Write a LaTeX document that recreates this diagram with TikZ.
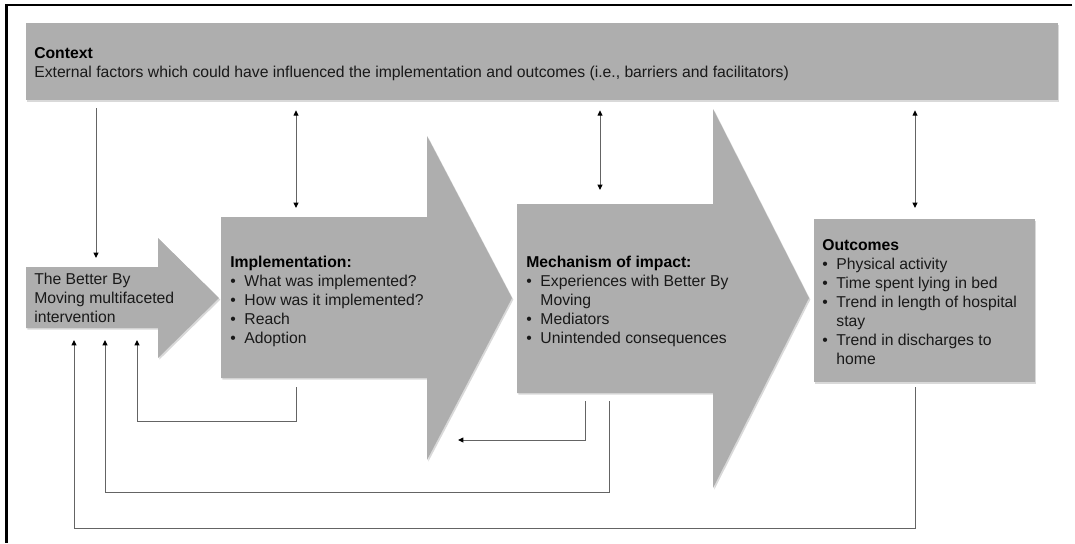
\documentclass[tikz,border=0pt]{standalone}
\usepackage{fontspec}
\setmainfont{Liberation Sans}
\usetikzlibrary{arrows.meta,shadows}
\definecolor{boxgray}{RGB}{174,174,174}
\definecolor{linegray}{RGB}{100,100,100}
\definecolor{txt}{RGB}{25,25,25}
\newcommand{\bl}{\textbullet}
\begin{document}
\begin{tikzpicture}[x=0.75pt,y=-0.75pt,
  grayshape/.style={fill=boxgray, drop shadow={shadow xshift=1pt, shadow yshift=-1.2pt, opacity=0.3}},
  conn/.style={draw=linegray, line width=0.75pt},
  tip/.style={-{Triangle[length=4pt,width=3.6pt,color=black]}},
  dtip/.style={{Triangle[length=4pt,width=3.6pt,color=black]}-{Triangle[length=4pt,width=3.6pt,color=black]}},
  lbl/.style={anchor=base west, inner sep=0pt, text=txt, font=\fontsize{11.8pt}{14.25pt}\selectfont},
  frame/.style={draw=black, line width=1.6pt}]
\useasboundingbox (0,0) rectangle (1075,543);
\draw[frame] (1072,5) -- (6.5,5) -- (6.5,543);

% context box
\node[grayshape, minimum width=774pt, minimum height=57.75pt, inner sep=0pt] (ctx) at (542,61.5) {};
% better by moving arrow
\path[grayshape] (26,267) -- (158,267) -- (158,238) -- (219,298) -- (158,358) -- (158,328) -- (26,328) -- cycle;
% implementation arrow
\path[grayshape] (221,217) -- (427,217) -- (427,136) -- (512,298) -- (427,460) -- (427,378) -- (221,378) -- cycle;
% mechanism arrow
\path[grayshape] (517,204) -- (713,204) -- (713,109) -- (809,298) -- (713,488) -- (713,393) -- (517,393) -- cycle;
% outcomes box
\node[grayshape, minimum width=165.75pt, minimum height=122.25pt, inner sep=0pt] (out) at (924.5,300.5) {};

% texts
\node[lbl] (ctxT) at (34,58) {\begin{tabular}[t]{@{}l@{}}\textbf{\color{black}Context}\\External factors which could have influenced the implementation and outcomes (i.e., barriers and facilitators)\end{tabular}};
\node[lbl] (bbmT) at (34,284) {\begin{tabular}[t]{@{}l@{}}The Better By\\Moving multifaceted\\intervention\end{tabular}};
\node[lbl] (impT) at (230,267) {\begin{tabular}[t]{@{}l@{\hspace{6.5pt}}l@{}}\multicolumn{2}{@{}l@{}}{\textbf{\color{black}Implementation:}}\\
\bl & What was implemented?\\ \bl & How was it implemented?\\ \bl & Reach\\ \bl & Adoption\end{tabular}};
\node[lbl] (mechT) at (526,267) {\begin{tabular}[t]{@{}l@{\hspace{6.5pt}}l@{}}\multicolumn{2}{@{}l@{}}{\textbf{\color{black}Mechanism of impact:}}\\
\bl & Experiences with Better By\\ & Moving\\ \bl & Mediators\\ \bl & Unintended consequences\end{tabular}};
\node[lbl] (outT) at (822,250) {\begin{tabular}[t]{@{}l@{\hspace{6.5pt}}l@{}}\multicolumn{2}{@{}l@{}}{\textbf{\color{black}Outcomes}}\\
\bl & Physical activity\\ \bl & Time spent lying in bed\\ \bl & Trend in length of hospital\\ & stay\\ \bl & Trend in discharges to\\ & home\end{tabular}};

% connector end points
\coordinate (bbmTop) at (96,258);
\coordinate (impTop) at (296,208);
\coordinate (mechTop) at (600,190);
\coordinate (outTop) at (915,208);
\coordinate (impBot) at (296,387);
\coordinate (mechBotA) at (585,401);
\coordinate (mechBotB) at (609,401);
\coordinate (outBot) at (915,387);
\coordinate (bbmInA) at (137,340);
\coordinate (bbmInB) at (105,340);
\coordinate (bbmInC) at (74,340);
\coordinate (impIn) at (458,440);

% connectors
\draw[conn,tip] ([yshift=-6pt]ctx.south -| bbmTop) -- (bbmTop);
\draw[conn,dtip] ([yshift=-7.5pt]ctx.south -| impTop) -- (impTop);
\draw[conn,dtip] ([yshift=-7.5pt]ctx.south -| mechTop) -- (mechTop);
\draw[conn,dtip] ([yshift=-7.5pt]ctx.south -| outTop) -- (outTop);
\draw[conn,tip] (impBot) -- ++(0,34) -| (bbmInA);
\draw[conn,tip] (mechBotA) |- (impIn);
\draw[conn,tip] (mechBotB) -- ++(0,91) -| (bbmInB);
\draw[conn,tip] (outBot) -- ++(0,141) -| (bbmInC);
\end{tikzpicture}
\end{document}
